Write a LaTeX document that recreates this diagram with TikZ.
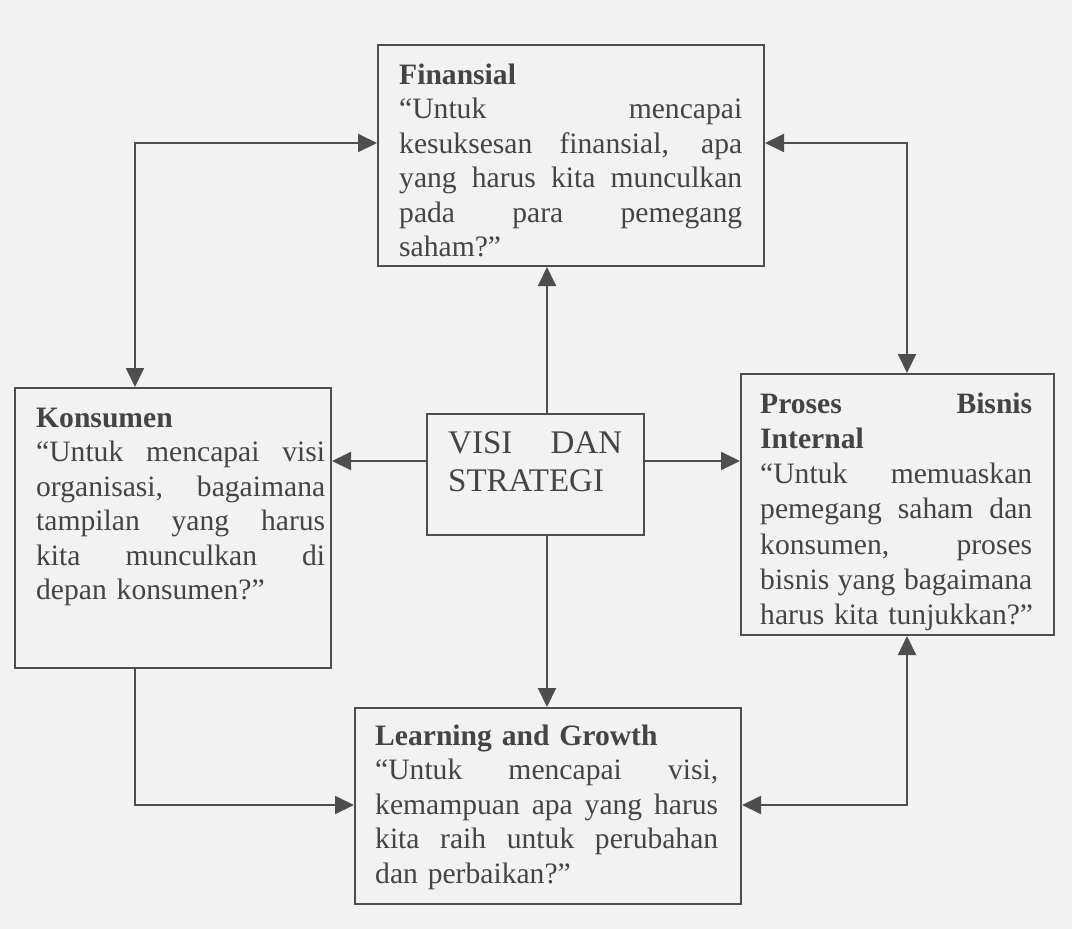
\documentclass[tikz,border=0pt]{standalone}
\usepackage{fontspec}
\setmainfont{Liberation Serif}
\usetikzlibrary{arrows.meta}
\definecolor{paper}{HTML}{F2F2F2}
\definecolor{ink}{HTML}{444444}
\definecolor{rule}{HTML}{4E4E4E}
\hyphenpenalty=10000
% one full-width justified line: interword spaces stretch to the line width
\newcommand{\spreadline}[1]{\leavevmode\hbox to \linewidth{\spaceskip=\fontdimen2\font plus 1fil\relax #1}}
\begin{document}
\begin{tikzpicture}[x=1bp,y=-1bp,
  >={Triangle[length=19bp,width=18bp]},
  box/.style={draw=rule, line width=2bp, fill=paper, rectangle, anchor=north west, inner sep=0pt},
  txt/.style={anchor=base west, inner sep=0pt, text=ink, align=left,
              font=\fontsize{29.6bp}{34.5bp}\selectfont},
  link/.style={draw=rule, line width=2bp}]
\fill[paper] (0,0) rectangle (1072,929);

% boxes
\node[box, minimum width=386bp, minimum height=221bp] (fin)  at (377,44)  {};
\node[box, minimum width=316bp, minimum height=280bp] (kon)  at (14,387)  {};
\node[box, minimum width=313bp, minimum height=261bp] (pro)  at (740,373) {};
\node[box, minimum width=386bp, minimum height=196bp] (lrn)  at (354,707) {};
\node[box, minimum width=217bp, minimum height=121bp] (visi) at (426,413) {};

% texts
\node[txt, text width=343bp] (fint) at ([shift={(22,40)}]fin.north west) {%
\textbf{Finansial}\\
\spreadline{“Untuk mencapai}\\
\spreadline{kesuksesan finansial, apa}\\
\spreadline{yang harus kita munculkan}\\
\spreadline{pada para pemegang}\\
saham?”};

\node[txt, text width=289bp] (kont) at ([shift={(22,40)}]kon.north west) {%
\textbf{Konsumen}\\
\spreadline{“Untuk mencapai visi}\\
\spreadline{organisasi, bagaimana}\\
\spreadline{tampilan yang harus}\\
\spreadline{kita munculkan di}\\
depan konsumen?”};

\node[txt, text width=272bp, font=\fontsize{29.6bp}{35.3bp}\selectfont] (prot) at ([shift={(20,40)}]pro.north west) {%
\spreadline{\textbf{Proses Bisnis}}\\
\textbf{Internal}\\
\spreadline{“Untuk memuaskan}\\
\spreadline{pemegang saham dan}\\
\spreadline{konsumen, proses}\\
\spreadline{bisnis yang bagaimana}\\
\mbox{harus kita tunjukkan?”}};

\node[txt, text width=343bp] (lrnt) at ([shift={(21,38)}]lrn.north west) {%
\textbf{Learning and Growth}\\
\spreadline{“Untuk mencapai visi,}\\
\spreadline{kemampuan apa yang harus}\\
\spreadline{kita raih untuk perubahan}\\
dan perbaikan?”};

\node[txt, text width=174bp, font=\fontsize{33bp}{38.5bp}\selectfont] (visit) at ([shift={(22,40)}]visi.north west) {%
\spreadline{VISI DAN}\\
STRATEGI};

% routing points of the connectors
\coordinate (kf) at (135,143);
\coordinate (pf) at (907,143);
\coordinate (vx) at (547,461);
\coordinate (kl) at (135,805);
\coordinate (pl) at (907,805);

% connectors
\draw[link,<->] (fin.west |- kf) -- (kf) -- (kon.north -| kf);
\draw[link,<->] (fin.east |- pf) -- (pf) -- (pro.north -| pf);
\draw[link,->] (visi.north -| vx) -- (fin.south -| vx);
\draw[link,->] (visi.west |- vx) -- (kon.east |- vx);
\draw[link,->] (visi.east |- vx) -- (pro.west |- vx);
\draw[link,->] (visi.south -| vx) -- (lrn.north -| vx);
\draw[link,->] (kon.south -| kl) -- (kl) -- (lrn.west |- kl);
\draw[link,<->] (pro.south -| pl) -- (pl) -- (lrn.east |- pl);
\end{tikzpicture}
\end{document}
